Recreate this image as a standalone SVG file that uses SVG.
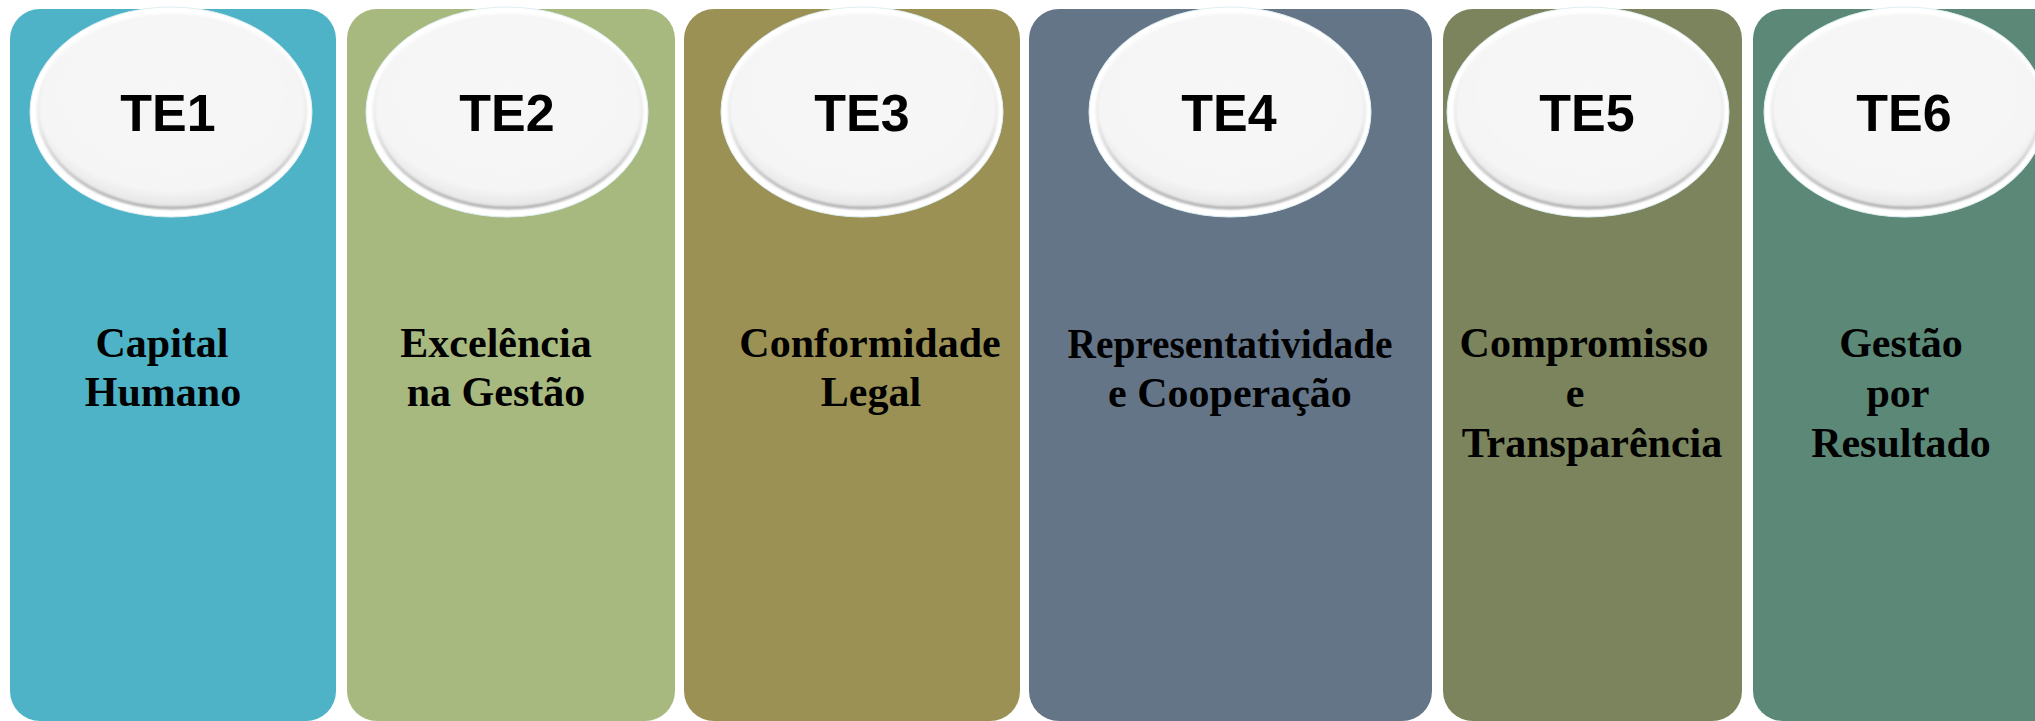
<svg xmlns="http://www.w3.org/2000/svg" width="2035" height="721" viewBox="0 0 2035 721">
<style>
.te{font-family:"Liberation Sans",Arial,sans-serif;font-weight:bold;font-size:52px;fill:#000;text-anchor:middle}
.lb{font-family:"Liberation Serif","Times New Roman",serif;font-weight:bold;font-size:42px;fill:#000;text-anchor:middle}
.outer{fill:#ffffff;stroke:#dfeff2;stroke-width:1}
.inner{fill:url(#innerFill);stroke:url(#rim);stroke-width:3}
</style>
<defs>
<radialGradient id="innerFill" cx="0.5" cy="0.4" r="0.6">
<stop offset="0" stop-color="#f7f7f7"/>
<stop offset="0.85" stop-color="#f5f5f5"/>
<stop offset="1" stop-color="#e4e4e4"/>
</radialGradient>
<linearGradient id="rim" x1="0" y1="0" x2="0" y2="1">
<stop offset="0" stop-color="#ffffff"/>
<stop offset="0.55" stop-color="#ebebeb"/>
<stop offset="1" stop-color="#ababab"/>
</linearGradient>
<filter id="soft" x="-5%" y="-5%" width="110%" height="110%">
<feGaussianBlur stdDeviation="0.8"/>
</filter>
</defs>
<rect width="2035" height="721" fill="#ffffff"/>
<g id="te1">
<rect x="10" y="9" width="326" height="712" rx="30" fill="#4fb3c8"/>
<ellipse class="outer" cx="171" cy="112" rx="141" ry="105"/>
<ellipse class="inner" cx="172" cy="110" rx="134" ry="98" filter="url(#soft)"/>
<text class="te" x="168" y="131">TE1</text>
<text class="lb" x="162" y="357">Capital</text>
<text class="lb" x="163" y="406">Humano</text>
</g>
<g id="te2">
<rect x="347" y="9" width="328" height="712" rx="30" fill="#a8b980"/>
<ellipse class="outer" cx="507" cy="112" rx="141" ry="105"/>
<ellipse class="inner" cx="508" cy="110" rx="134" ry="98" filter="url(#soft)"/>
<text class="te" x="507" y="131">TE2</text>
<text class="lb" x="496" y="357">Excelência</text>
<text class="lb" x="496" y="406">na Gestão</text>
</g>
<g id="te3">
<rect x="684" y="9" width="336" height="712" rx="30" fill="#9b9155"/>
<ellipse class="outer" cx="862" cy="112" rx="141" ry="105"/>
<ellipse class="inner" cx="863" cy="110" rx="134" ry="98" filter="url(#soft)"/>
<text class="te" x="862" y="131">TE3</text>
<text class="lb" x="870" y="357">Conformidade</text>
<text class="lb" x="871" y="406">Legal</text>
</g>
<g id="te4">
<rect x="1029" y="9" width="403" height="712" rx="30" fill="#647588"/>
<ellipse class="outer" cx="1230" cy="112" rx="141" ry="105"/>
<ellipse class="inner" cx="1231" cy="110" rx="134" ry="98" filter="url(#soft)"/>
<text class="te" x="1229" y="131">TE4</text>
<text class="lb" x="1230" y="358" textLength="325" lengthAdjust="spacingAndGlyphs">Representatividade</text>
<text class="lb" x="1230" y="407">e Cooperação</text>
</g>
<g id="te5">
<rect x="1443" y="9" width="299" height="712" rx="30" fill="#7b845c"/>
<ellipse class="outer" cx="1588" cy="112" rx="141" ry="105"/>
<ellipse class="inner" cx="1589" cy="110" rx="134" ry="98" filter="url(#soft)"/>
<text class="te" x="1587" y="131">TE5</text>
<text class="lb" x="1584" y="357">Compromisso</text>
<text class="lb" x="1575" y="407">e</text>
<text class="lb" x="1592" y="457">Transparência</text>
</g>
<g id="te6">
<rect x="1753" y="9" width="330" height="712" rx="30" fill="#5c8878"/>
<ellipse class="outer" cx="1905" cy="112" rx="141" ry="105"/>
<ellipse class="inner" cx="1906" cy="110" rx="134" ry="98" filter="url(#soft)"/>
<text class="te" x="1904" y="131">TE6</text>
<text class="lb" x="1901" y="357">Gestão</text>
<text class="lb" x="1898" y="407">por</text>
<text class="lb" x="1901" y="457">Resultado</text>
</g>
<g id="connectors"/>
</svg>
